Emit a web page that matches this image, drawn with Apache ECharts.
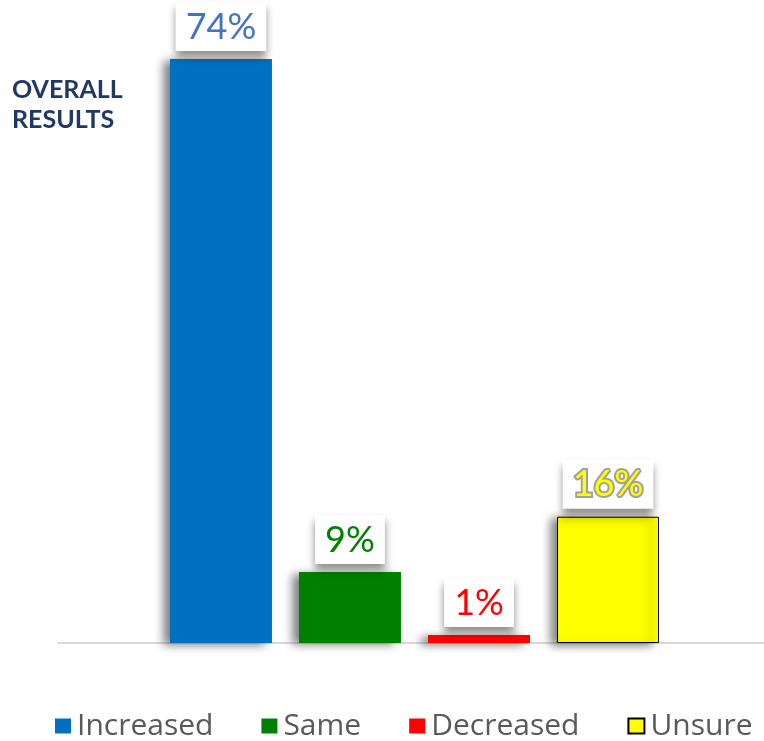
<!DOCTYPE html>
<html>
<head>
<meta charset="utf-8">
<script src="https://cdn.jsdelivr.net/npm/echarts@6/dist/echarts.min.js"></script>
<style>
  html, body { margin: 0; padding: 0; background: #fff; }
  #chart { width: 764px; height: 741px; }
</style>
</head>
<body>
<div id="chart"></div>
<script>
// overall results, one bar per answer
const categories = ['Overall']
const seriesNames = ['Increased', 'Same', 'Decreased', 'Unsure']
const percentValues = [74, 9, 1, 16]

// look of each bar / label
const barColors = ['#0070C0', '#008000', '#FF0000', '#FFFF00']
const labelColors = ['#4472C4', '#008000', '#FF0000', '#FFFF00']

const chart = echarts.init(document.getElementById('chart'))

const series = seriesNames.map((name, i) => {
    const isUnsure = name === 'Unsure'
    return {
        type: 'bar',
        name: name,
        xAxisIndex: 0,
        yAxisIndex: 0,
        data: [percentValues[i]],
        barWidth: 102,
        barGap: '26.5%',
        itemStyle: {
            color: barColors[i],
            borderColor: isUnsure ? '#000' : barColors[i],
            borderWidth: isUnsure ? 1 : 0,
            shadowColor: 'rgba(0,0,0,0.5)',
            shadowBlur: 9,
            shadowOffsetX: -7,
            shadowOffsetY: 2
        },
        label: {
            show: true,
            position: 'top',
            distance: 8,
            formatter: '{c}%',
            fontFamily: 'Lato',
            fontSize: 36,
            color: labelColors[i],
            textBorderColor: isUnsure ? '#a0a0a0' : 'transparent',
            textBorderWidth: isUnsure ? 4 : 0,
            backgroundColor: '#fff',
            padding: [7, 10, 6, 10],
            shadowColor: 'rgba(0,0,0,0.45)',
            shadowBlur: 8,
            shadowOffsetY: 6
        }
    }
})

const option = {
    animation: false,
    title: {
        text: 'OVERALL\nRESULTS',
        left: 12,
        top: 75,
        padding: 0,
        textStyle: {
            fontFamily: 'Lato',
            fontWeight: 'bold',
            fontSize: 25,
            lineHeight: 30,
            color: '#1F3864'
        }
    },
    legend: {
        data: seriesNames,
        left: 55,
        right: 0,
        top: 708,
        padding: 0,
        icon: 'rect',
        itemWidth: 16,
        itemHeight: 15,
        itemGap: 48,
        textStyle: {
            fontFamily: 'Open Sans',
            fontSize: 30,
            lineHeight: 36,
            color: '#595959',
            padding: [0, 0, 0, 1]
        }
    },
    // grid 0 holds the bars, grid 1 only draws the long baseline
    grid: [
        { left: 65, right: 0, top: 59, bottom: 98 },
        { left: 58, right: 0, top: 59, bottom: 98 }
    ],
    xAxis: [
        {
            type: 'category',
            gridIndex: 0,
            data: categories,
            axisTick: { show: false },
            axisLabel: { show: false },
            axisLine: { show: false }
        },
        {
            type: 'category',
            gridIndex: 1,
            data: categories,
            axisTick: { show: false },
            axisLabel: { show: false },
            axisLine: {
                show: true,
                lineStyle: { color: '#d9d9d9', width: 2 }
            }
        }
    ],
    yAxis: [
        { type: 'value', gridIndex: 0, min: 0, max: 74, show: false },
        { type: 'value', gridIndex: 1, min: 0, max: 74, show: false }
    ],
    series: series
}

chart.setOption(option)
</script>
</body>
</html>
